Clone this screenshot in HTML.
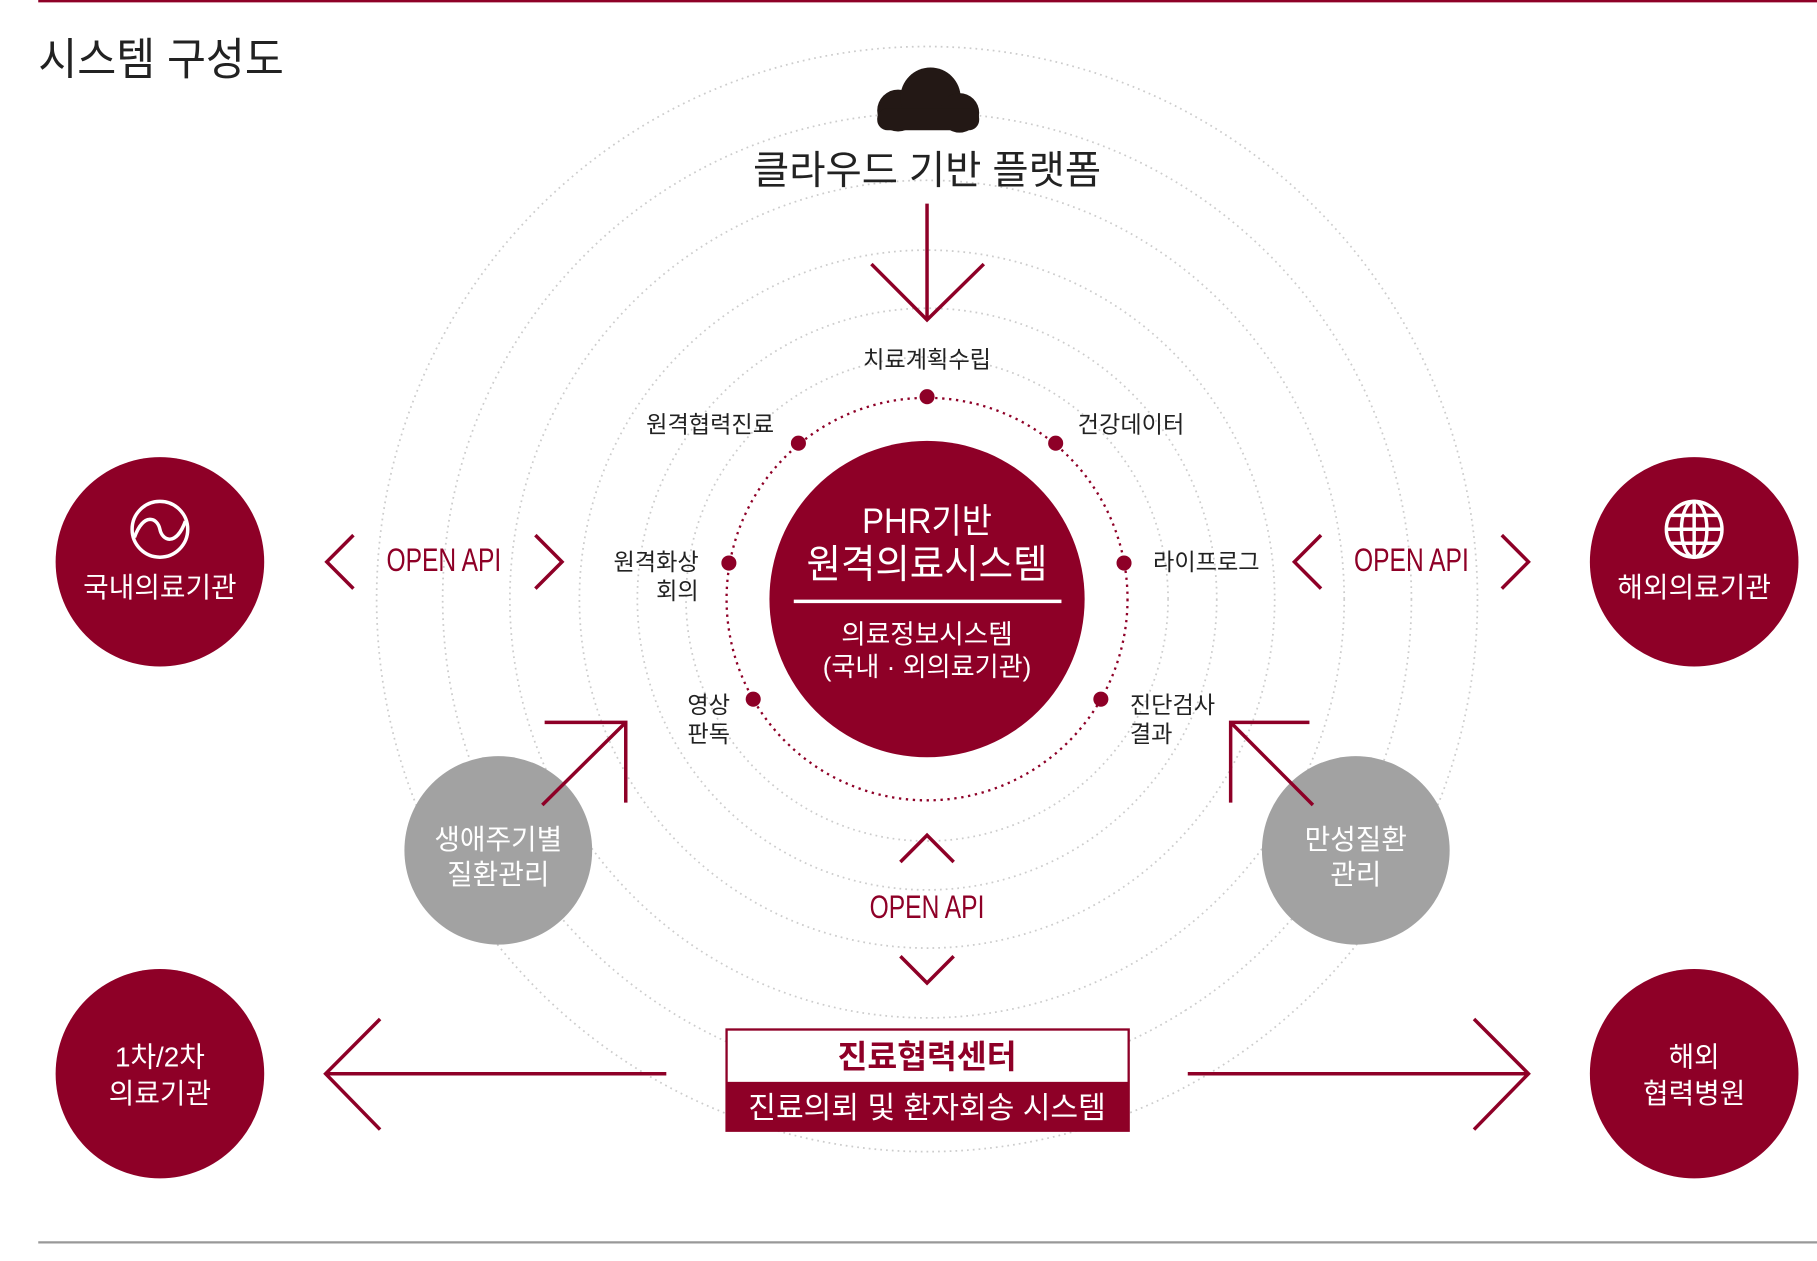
<!DOCTYPE html>
<html><head><meta charset="utf-8"><style>
html,body{margin:0;padding:0;background:#fff;}
svg{display:block;}
text{font-family:"Liberation Sans","Noto Sans CJK KR",sans-serif;}
</style></head><body>
<svg width="1817" height="1261" viewBox="0 0 1568 1084" preserveAspectRatio="none" xmlns="http://www.w3.org/2000/svg">
<line x1="33" y1="1" x2="1568" y2="1" stroke="#8e0027" stroke-width="2"/>
<line x1="33" y1="1068" x2="1568" y2="1068" stroke="#999" stroke-width="2"/>
<text x="33" y="64" font-size="38" fill="#222" textLength="212" lengthAdjust="spacingAndGlyphs">시스템 구성도</text>
<g fill="none" stroke="#ccc" stroke-width="1.5" stroke-dasharray="1.5 3.5">
<circle cx="800" cy="515" r="475"/><circle cx="800" cy="515" r="418"/><circle cx="800" cy="515" r="360"/><circle cx="800" cy="515" r="300"/><circle cx="800" cy="515" r="250"/><circle cx="800" cy="515" r="208"/>
</g>
<circle cx="800" cy="515" r="173" fill="none" stroke="#8e0027" stroke-width="2" stroke-dasharray="2 4"/>
<circle cx="800" cy="515" r="136" fill="#8e0027"/>
<g fill="#8e0027"><circle cx="800" cy="341" r="6.5"/><circle cx="689" cy="381" r="6.5"/><circle cx="911" cy="381" r="6.5"/><circle cx="629" cy="484" r="6.5"/><circle cx="970" cy="484" r="6.5"/><circle cx="650" cy="601" r="6.5"/><circle cx="950" cy="601" r="6.5"/></g>
<g fill="#231815"><circle cx="775" cy="95" r="18"/><circle cx="803" cy="84" r="26"/><circle cx="828" cy="97" r="17"/><rect x="757" y="93" width="88" height="19" rx="9"/></g>
<text x="800" y="158" font-size="34" fill="#222" text-anchor="middle">클라우드 기반 플랫폼</text>
<g fill="#8e0027"><circle cx="138" cy="483" r="90"/><circle cx="1462" cy="483" r="90"/><circle cx="138" cy="923" r="90"/><circle cx="1462" cy="923" r="90"/></g>
<g fill="#a2a2a2"><circle cx="430" cy="731" r="81"/><circle cx="1170" cy="731" r="81"/></g>
<g stroke="#8e0027" stroke-width="3" fill="none">
<line x1="800" y1="175" x2="800" y2="273"/><polyline points="752,227 800,275 849,227"/>
<polyline points="305,460 282,483 305,506"/><polyline points="462,460 485,483 462,506"/>
<polyline points="1140,460 1117,483 1140,506"/><polyline points="1296,460 1319,483 1296,506"/>
<polyline points="777,741 800,718 823,741"/><polyline points="777,822 800,845 823,822"/>
<polyline points="470,621 540,621 540,690"/><line x1="468" y1="692" x2="540" y2="621"/>
<polyline points="1130,621 1062,621 1062,690"/><line x1="1062" y1="621" x2="1133" y2="692"/>
<line x1="575" y1="923" x2="282" y2="923"/><polyline points="328,876 281,923 328,971"/>
<line x1="1025" y1="923" x2="1318" y2="923"/><polyline points="1272,876 1319,923 1272,971"/>
</g>
<g font-size="20" fill="#222">
<text x="800" y="316" text-anchor="middle">치료계획수립</text>
<text x="668" y="372" text-anchor="end">원격협력진료</text>
<text x="930" y="372">건강데이터</text>
<text x="603" y="490" text-anchor="end">원격화상</text>
<text x="603" y="515" text-anchor="end">회의</text>
<text x="995" y="490">라이프로그</text>
<text x="630" y="613" text-anchor="end">영상</text>
<text x="630" y="638" text-anchor="end">판독</text>
<text x="975" y="613">진단검사</text>
<text x="975" y="638">결과</text>
</g>
<g fill="#fff" text-anchor="middle" lengthAdjust="spacingAndGlyphs">
<text x="800" y="458" font-size="30" textLength="112" lengthAdjust="spacingAndGlyphs">PHR기반</text>
<text x="800" y="497" font-size="34" textLength="208" lengthAdjust="spacingAndGlyphs">원격의료시스템</text>
<text x="800" y="553" font-size="23" textLength="148" lengthAdjust="spacingAndGlyphs">의료정보시스템</text>
<text x="800" y="581" font-size="23" textLength="180" lengthAdjust="spacingAndGlyphs">(국내 · 외의료기관)</text>
</g>
<line x1="685" y1="517" x2="916" y2="517" stroke="#fff" stroke-width="3"/>
<g fill="#8e0027" font-size="28" text-anchor="middle">
<text x="383" y="491" textLength="99" lengthAdjust="spacingAndGlyphs">OPEN API</text><text x="1218" y="491" textLength="99" lengthAdjust="spacingAndGlyphs">OPEN API</text><text x="800" y="789" textLength="99" lengthAdjust="spacingAndGlyphs">OPEN API</text>
</g>
<g stroke="#fff" stroke-width="3" fill="none">
<circle cx="138" cy="455" r="24"/><path d="M116,462 C124,440 136,445 138,455 C140,465 152,470 160,448"/>
<circle cx="1462" cy="455" r="24"/><ellipse cx="1462" cy="455" rx="11" ry="24"/><line x1="1462" y1="431" x2="1462" y2="479"/><line x1="1438" y1="455" x2="1486" y2="455"/><line x1="1442" y1="443" x2="1482" y2="443"/><line x1="1442" y1="467" x2="1482" y2="467"/>
</g>
<g fill="#fff" font-size="24" text-anchor="middle">
<text x="138" y="513">국내의료기관</text>
<text x="1462" y="513">해외의료기관</text>
<text x="138" y="917">1차/2차</text><text x="138" y="948">의료기관</text>
<text x="1462" y="917">해외</text><text x="1462" y="948">협력병원</text>
<text x="430" y="730">생애주기별</text><text x="430" y="760">질환관리</text>
<text x="1170" y="730">만성질환</text><text x="1170" y="760">관리</text>
</g>
<rect x="627" y="885" width="347" height="87" fill="#fff" stroke="#8e0027" stroke-width="2"/>
<rect x="627" y="930" width="347" height="42" fill="#8e0027"/>
<text x="800" y="918" font-size="28" font-weight="bold" fill="#8e0027" text-anchor="middle">진료협력센터</text>
<text x="800" y="961" font-size="26" fill="#fff" text-anchor="middle">진료의뢰 및 환자회송 시스템</text>
</svg>
</body></html>
